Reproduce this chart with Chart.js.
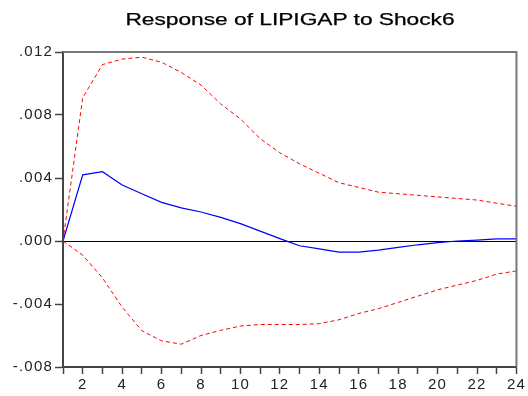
<!DOCTYPE html>
<html>
<head>
<meta charset="utf-8">
<script src="https://cdn.jsdelivr.net/npm/chart.js"></script>
<style>
  html, body { margin: 0; padding: 0; background: #fff; overflow: hidden; }
  #wrap { position: relative; width: 528px; height: 396px; }
  #title {
    position: absolute; left: 290px; top: 12px;
    font: 16px "Liberation Sans", Arial, sans-serif; line-height: 1;
    color: #000; white-space: nowrap;
    -webkit-text-stroke: 0.25px #000;
    transform: translateX(-50%) scaleX(1.42);
  }
</style>
</head>
<body>
<div id="wrap">
  <div id="title">Response of LIPIGAP to Shock6</div>
  <canvas id="irf" width="528" height="396"></canvas>
</div>
<script>
// Impulse response of LIPIGAP to Shock6 with +/- 2 S.E. bands
const periods = [1, 2, 3, 4, 5, 6, 7, 8, 9, 10, 11, 12, 13, 14, 15, 16, 17, 18, 19, 20, 21, 22, 23, 24];

const response = [0, 0.0042, 0.0044, 0.00355, 0.0030, 0.00245, 0.0021, 0.00184, 0.0015, 0.0011, 0.00063, 0.00015,
                  -0.0003, -0.0005, -0.0007, -0.0007, -0.00058, -0.00041, -0.00024, -0.0001, 0, 0.00006, 0.00013, 0.00013];

const upperBand = [0, 0.0091, 0.0112, 0.01155, 0.01167, 0.01135, 0.0107, 0.0099, 0.0087, 0.00775, 0.0065, 0.0056,
                   0.0049, 0.0043, 0.0037, 0.0034, 0.0031, 0.0030, 0.0029, 0.0028, 0.0027, 0.0026, 0.0024, 0.0022];

const lowerBand = [0, -0.0009, -0.00234, -0.0042, -0.0057, -0.00634, -0.00655, -0.0060, -0.00567, -0.0054, -0.0053, -0.0053,
                   -0.0053, -0.00525, -0.0050, -0.0046, -0.0043, -0.0039, -0.0035, -0.0031, -0.0028, -0.0025, -0.0021, -0.0019];

const yMin = -0.008, yMax = 0.012, yStep = 0.004;

const tickFont = { family: '"Liberation Sans", Arial, sans-serif', size: 15 };
const axisColor = '#444';

// wider glyph spacing for tick labels, and a gray frame round the plot
const framePlugin = {
  id: 'frame',
  beforeLayout(chart) { chart.ctx.letterSpacing = '1.2px'; },
  beforeDraw(chart) { chart.ctx.letterSpacing = '1.2px'; },
  afterDatasetsDraw(chart) {
    const { ctx, chartArea: a } = chart;
    ctx.save();
    ctx.strokeStyle = '#777';
    ctx.lineWidth = 2;
    ctx.beginPath();
    ctx.moveTo(a.left, a.top);
    ctx.lineTo(a.right, a.top);
    ctx.lineTo(a.right, a.bottom);
    ctx.stroke();
    ctx.restore();
  }
};

new Chart(document.getElementById('irf').getContext('2d'), {
  type: 'line',
  data: {
    labels: periods,
    datasets: [
      { data: upperBand, borderColor: '#ff0000', borderWidth: 1, borderDash: [4, 3] },
      { data: lowerBand, borderColor: '#ff0000', borderWidth: 1, borderDash: [4, 3] },
      { data: response, borderColor: '#0000ff', borderWidth: 1.2 }
    ]
  },
  options: {
    responsive: false,
    animation: false,
    layout: { padding: { top: 52, right: 10, left: 0, bottom: 0 } },
    elements: { point: { radius: 0 }, line: { tension: 0 } },
    plugins: { legend: { display: false }, title: { display: false }, tooltip: { enabled: false } },
    scales: {
      x: {
        type: 'category',
        offset: false,
        border: { display: true, color: axisColor, width: 2 },
        grid: { display: true, offset: false, drawOnChartArea: false, tickLength: 7, tickColor: axisColor, tickWidth: 1.5 },
        ticks: {
          autoSkip: false, maxRotation: 0, padding: 2, color: '#222', font: tickFont,
          callback: (v, i) => (periods[i] % 2 === 0 ? String(periods[i]) : '')
        }
      },
      y: {
        min: yMin, max: yMax,
        afterFit(scale) { scale.width = 63; },
        border: { display: true, color: axisColor, width: 2 },
        grid: {
          drawOnChartArea: true, tickLength: 8, tickColor: axisColor, tickWidth: 1.5, lineWidth: 1,
          color: ctx => (Math.abs(ctx.tick.value) < 1e-9 ? '#000' : 'rgba(0,0,0,0)')
        },
        ticks: {
          stepSize: yStep, padding: 2, color: '#222', font: tickFont,
          callback: v => v.toFixed(3).replace('0.', '.')
        }
      }
    }
  },
  plugins: [framePlugin]
});
</script>
</body>
</html>
